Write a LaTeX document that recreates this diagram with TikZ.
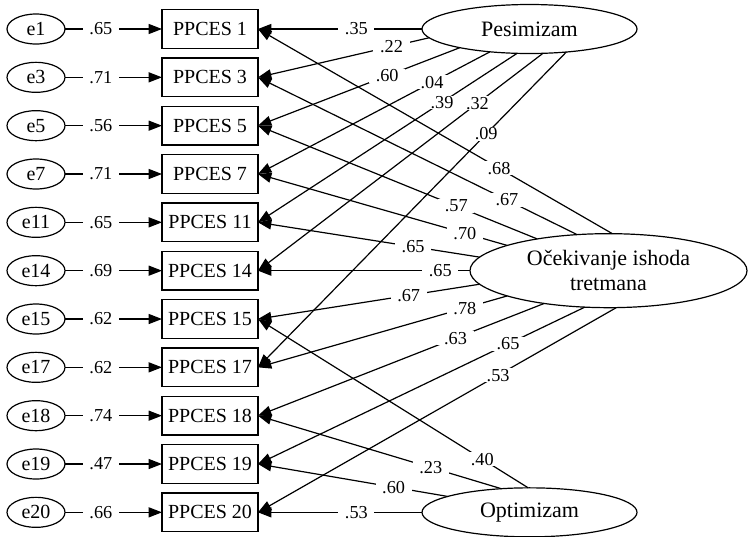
\documentclass[tikz,border=0pt]{standalone}
\usepackage{fontspec}
\setmainfont{Liberation Serif}
\usetikzlibrary{shapes,arrows.meta,positioning}

\begin{document}
\begin{tikzpicture}[x=0.75pt, y=-0.75pt, >={Triangle[length=10pt,width=7.5pt]}, line width=0.9pt]
        \tikzset{
            item/.style={draw, rectangle, minimum height=29pt, minimum width=72pt, inner sep=0pt, outer sep=0pt, line width=0.9pt, font=\fontsize{15}{17}\selectfont},
            err/.style={draw, ellipse, minimum width=43.5pt, minimum height=22.5pt, inner sep=0pt, outer sep=0pt, line width=0.9pt, font=\fontsize{15}{17}\selectfont},
            factor/.style={draw, ellipse, minimum width=161.25pt, minimum height=36.75pt, inner sep=0pt, outer sep=0pt, line width=0.9pt, align=center, font=\fontsize{16.5}{19}\selectfont},
            load/.style={fill=white, inner xsep=5pt, inner ysep=0.5pt, font=\fontsize{13.7}{15}\selectfont},
        }
        \useasboundingbox (0,0) rectangle (748,536);

        % Indicators
        \node [item] (p1) at (210,29) {PPCES 1};
        \node [item, below=7.25pt of p1] (p3) {PPCES 3};
        \node [item, below=7.25pt of p3] (p5) {PPCES 5};
        \node [item, below=7.25pt of p5] (p7) {PPCES 7};
        \node [item, below=7.25pt of p7] (p11) {PPCES 11};
        \node [item, below=7.25pt of p11] (p14) {PPCES 14};
        \node [item, below=7.25pt of p14] (p15) {PPCES 15};
        \node [item, below=7.25pt of p15] (p17) {PPCES 17};
        \node [item, below=7.25pt of p17] (p18) {PPCES 18};
        \node [item, below=7.25pt of p18] (p19) {PPCES 19};
        \node [item, below=7.25pt of p19] (p20) {PPCES 20};

        % Error terms
        \node [err, left=72.75pt of p1] (e1) {e1};
        \node [err, left=72.75pt of p3] (e3) {e3};
        \node [err, left=72.75pt of p5] (e5) {e5};
        \node [err, left=72.75pt of p7] (e7) {e7};
        \node [err, left=72.75pt of p11] (e11) {e11};
        \node [err, left=72.75pt of p14] (e14) {e14};
        \node [err, left=72.75pt of p15] (e15) {e15};
        \node [err, left=72.75pt of p17] (e17) {e17};
        \node [err, left=72.75pt of p18] (e18) {e18};
        \node [err, left=72.75pt of p19] (e19) {e19};
        \node [err, left=72.75pt of p20] (e20) {e20};

        % Latent factors
        \node [factor, right=123pt of p1] (pes) {Pesimizam};
        \node [factor, minimum width=207.75pt, minimum height=55.5pt, right=159pt of p14] (oce) {Očekivanje ishoda\\tretmana};
        \node [factor, right=123pt of p20] (opt) {Optimizam};

        % Error paths
        \draw [->] (e1) -- node [load, pos=0.37] {.65} (p1);
        \draw [->] (e3) -- node [load, pos=0.37] {.71} (p3);
        \draw [->] (e5) -- node [load, pos=0.37] {.56} (p5);
        \draw [->] (e7) -- node [load, pos=0.37] {.71} (p7);
        \draw [->] (e11) -- node [load, pos=0.37] {.65} (p11);
        \draw [->] (e14) -- node [load, pos=0.37] {.69} (p14);
        \draw [->] (e15) -- node [load, pos=0.37] {.62} (p15);
        \draw [->] (e17) -- node [load, pos=0.37] {.62} (p17);
        \draw [->] (e18) -- node [load, pos=0.37] {.74} (p18);
        \draw [->] (e19) -- node [load, pos=0.37] {.47} (p19);
        \draw [->] (e20) -- node [load, pos=0.37] {.66} (p20);

        % Pesimizam loadings
        \draw [->] (pes.180) -- node [load, pos=0.40] {.35} (p1.east);
        \draw [->] (pes.185) -- node [load, pos=0.22] {.22} (p3.east);
        \draw [->] (pes.195) -- node [load, pos=0.36] {.60} (p5.east);
        \draw [->] (pes.210) -- node [load, pos=0.25] {.04} (p7.east);
        \draw [->] (pes.243) -- node [load, pos=0.29] {.39} (p11.east);
        \draw [->] (pes.299) -- node [load, pos=0.23] {.32} (p14.east);
        \draw [->] (pes.328) -- node [load, pos=0.26] {.09} (p17.east);

        % Ocekivanje loadings
        \draw [->] (oce.84) -- node [load, pos=0.32] {.68} (p1.east);
        \draw [->] (oce.131) -- node [load, pos=0.22] {.67} (p3.east);
        \draw [->] (oce.156) -- node [load, pos=0.29] {.57} (p5.east);
        \draw [->] (oce.166) -- node [load, pos=0.17] {.70} (p7.east);
        \draw [->] (oce.174) -- node [load, pos=0.30] {.65} (p11.east);
        \draw [->] (oce.180) -- node [load, pos=0.14] {.65} (p14.east);
        \draw [->] (oce.186) -- node [load, pos=0.32] {.67} (p15.east);
        \draw [->] (oce.194) -- node [load, pos=0.17] {.78} (p17.east);
        \draw [->] (oce.207) -- node [load, pos=0.31] {.63} (p18.east);
        \draw [->] (oce.237) -- node [load, pos=0.235] {.65} (p19.east);
        \draw [->] (oce.282) -- node [load, pos=0.33] {.53} (p20.east);

        % Optimizam loadings
        \draw [->] (opt.93) -- node [load, pos=0.17] {.40} (p15.east);
        \draw [->] (opt.140) -- node [load, pos=0.29] {.23} (p18.east);
        \draw [->] (opt.169) -- node [load, pos=0.285] {.60} (p19.east);
        \draw [->] (opt.180) -- node [load, pos=0.40] {.53} (p20.east);
    \end{tikzpicture}
\end{document}
